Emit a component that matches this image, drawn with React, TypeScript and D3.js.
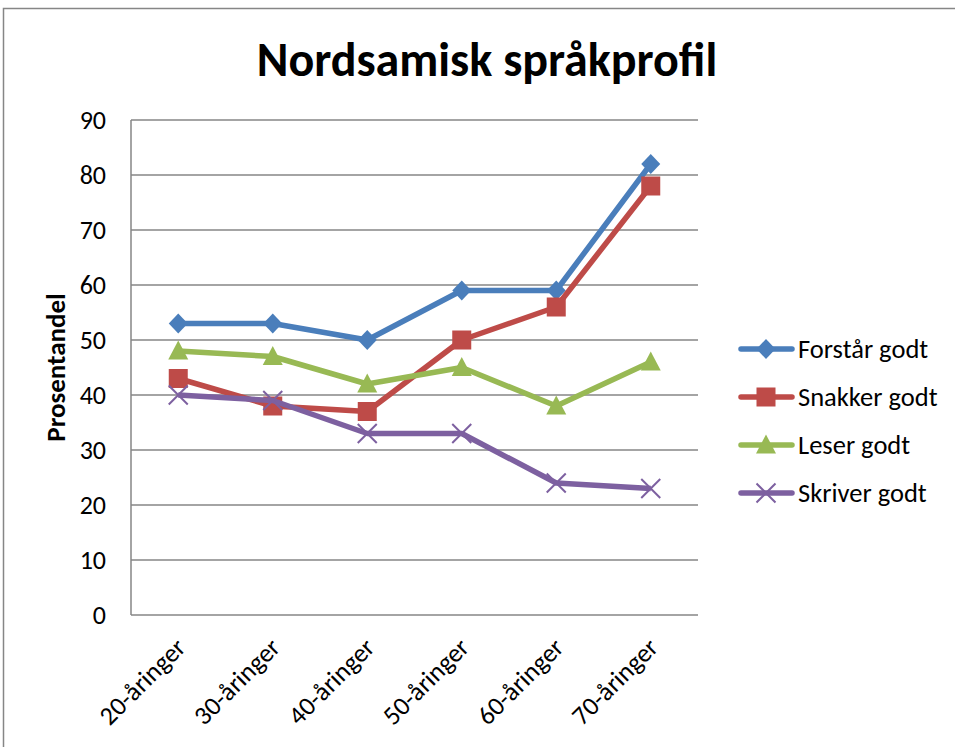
import React, { useEffect, useRef } from 'react';
import * as d3 from 'd3';

const categories = ['20-åringer', '30-åringer', '40-åringer', '50-åringer', '60-åringer', '70-åringer'];
const seriesNames = ['Forstår godt', 'Snakker godt', 'Leser godt', 'Skriver godt'];
const forstar = [53, 53, 50, 59, 59, 82];
const snakker = [43, 38, 37, 50, 56, 78];
const leser = [48, 47, 42, 45, 38, 46];
const skriver = [40, 39, 33, 33, 24, 23];
const colors = ['#4A7EBB', '#BE4B48', '#98B954', '#7D60A0'];
const markers = ['diamond', 'square', 'triangle', 'cross'];
const yTicks = [0, 10, 20, 30, 40, 50, 60, 70, 80, 90];

const font = 'Carlito, "Open Sans", "Noto Sans", sans-serif';

const App = () => {
  const svgRef = useRef(null);
  const width = 955;
  const height = 747;

  useEffect(() => {
    const svg = d3.select(svgRef.current);
    svg.selectAll('*').remove();

    const margin = { top: 120, left: 131, right: 257, bottom: 132 };
    const innerW = width - margin.left - margin.right;
    const innerH = height - margin.top - margin.bottom;

    // outer chart border
    svg.append('rect')
      .attr('x', 3.5).attr('y', 8.5)
      .attr('width', 960).attr('height', 760)
      .attr('fill', '#fff').attr('stroke', '#868686').attr('stroke-width', 1.5);

    svg.append('text')
      .attr('x', 487).attr('y', 76)
      .attr('text-anchor', 'middle')
      .attr('font-family', font).attr('font-weight', 'bold').attr('font-size', 48)
      .text('Nordsamisk språkprofil');

    const x = d3.scaleBand().domain(categories).range([0, innerW]);
    const y = d3.scaleLinear().domain([0, 90]).range([innerH, 0]);

    const g = svg.append('g').attr('transform', `translate(${margin.left},${margin.top})`);

    // gridlines
    g.selectAll('.grid').data(yTicks).enter().append('line')
      .attr('x1', 0).attr('x2', innerW)
      .attr('y1', d => y(d)).attr('y2', d => y(d))
      .attr('stroke', '#868686').attr('stroke-width', 1.5);

    g.append('line')
      .attr('x1', 0).attr('x2', 0).attr('y1', 0).attr('y2', innerH)
      .attr('stroke', '#868686').attr('stroke-width', 1.5);

    g.selectAll('.ylab').data(yTicks).enter().append('text')
      .attr('x', -25).attr('y', d => y(d)).attr('dy', '0.35em')
      .attr('text-anchor', 'end')
      .attr('font-family', font).attr('font-size', 26)
      .text(d => d);

    g.append('text')
      .attr('transform', `translate(-66,${innerH / 2}) rotate(-90)`)
      .attr('text-anchor', 'middle')
      .attr('font-family', font).attr('font-weight', 'bold').attr('font-size', 27)
      .text('Prosentandel');

    g.selectAll('.xlab').data(categories).enter().append('text')
      .attr('transform', d => `translate(${x(d) + x.bandwidth() / 2 + 9},${innerH + 34}) rotate(-45)`)
      .attr('text-anchor', 'end')
      .attr('font-family', font).attr('font-size', 26)
      .text(d => d);

    const data = [forstar, snakker, leser, skriver];
    const cx = (i) => x(categories[i]) + x.bandwidth() / 2;
    const line = d3.line().x((d, i) => cx(i)).y(d => y(d));

    const drawMarker = (sel, type, color, px, py) => {
      if (type === 'diamond') {
        sel.append('path').attr('d', `M${px},${py - 10}L${px + 9.5},${py}L${px},${py + 10}L${px - 9.5},${py}Z`).attr('fill', color);
      } else if (type === 'square') {
        sel.append('rect').attr('x', px - 9.5).attr('y', py - 9.5).attr('width', 19).attr('height', 19).attr('fill', color);
      } else if (type === 'triangle') {
        sel.append('path').attr('d', `M${px},${py - 10.5}L${px + 10},${py + 8.5}L${px - 10},${py + 8.5}Z`).attr('fill', color);
      } else {
        sel.append('path').attr('d', `M${px - 9.5},${py - 9.5}L${px + 9.5},${py + 9.5}M${px + 9.5},${py - 9.5}L${px - 9.5},${py + 9.5}`)
          .attr('stroke', color).attr('stroke-width', 2);
      }
    };

    data.forEach((vals, si) => {
      g.append('path').datum(vals)
        .attr('d', line)
        .attr('fill', 'none')
        .attr('stroke', colors[si]).attr('stroke-width', 5.5)
        .attr('stroke-linejoin', 'round');
      vals.forEach((v, i) => drawMarker(g, markers[si], colors[si], cx(i), y(v)));
    });

    // legend
    const legend = svg.append('g');
    seriesNames.forEach((name, i) => {
      const ly = 349 + i * 48;
      legend.append('line')
        .attr('x1', 741).attr('x2', 792).attr('y1', ly).attr('y2', ly)
        .attr('stroke', colors[i]).attr('stroke-width', 5.5).attr('stroke-linecap', 'round');
      drawMarker(legend, markers[i], colors[i], 766, ly);
      legend.append('text')
        .attr('x', 798).attr('y', ly).attr('dy', '0.35em')
        .attr('font-family', font).attr('font-size', 26.5)
        .text(name);
    });
  }, []);

  return (
    <svg ref={svgRef} width={width} height={height} style={{ position: 'absolute', left: 0, top: 0 }}></svg>
  );
};

export default App;
